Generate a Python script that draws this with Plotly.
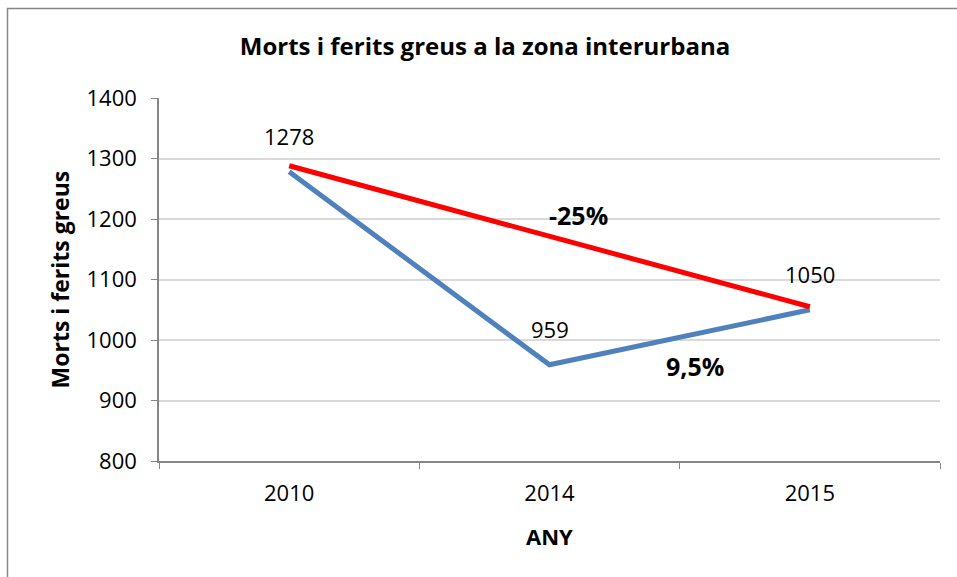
import plotly.graph_objects as go

years = ["2010", "2014", "2015"]
values = [1278, 959, 1050]
trend_years = ["2010", "2015"]
trend_values = [1288, 1055]
pct_labels = ["-25%", "9,5%"]
pct_x = [1.11, 1.56]
pct_y = [1207, 957]

FONT = "Open Sans, Noto Sans, sans-serif"

fig = go.Figure()
fig.add_trace(go.Scatter(x=years, y=values, mode="lines",
                         line=dict(color="#4f81bd", width=5), hoverinfo="skip"))
fig.add_trace(go.Scatter(x=trend_years, y=trend_values, mode="lines",
                         line=dict(color="#ff0000", width=5), hoverinfo="skip"))

anns = []
for i, v in enumerate(values):
    anns.append(dict(x=i, y=v, xref="x", yref="y", text=str(v), showarrow=False, yshift=36,
                     font=dict(size=22, color="black", family=FONT)))
for t, x, y in zip(pct_labels, pct_x, pct_y):
    anns.append(dict(x=x, y=y, xref="x", yref="y", text="<b>%s</b>" % t, showarrow=False,
                     font=dict(size=25, color="black", family=FONT)))
anns.append(dict(xref="paper", yref="paper", x=-0.1268, y=0.5, xanchor="center", yanchor="middle",
                 text="<b>Morts i ferits greus</b>", textangle=-90, showarrow=False,
                 font=dict(size=23, color="black", family=FONT)))
anns.append(dict(xref="paper", yref="paper", x=0.5006, y=-0.2066, xanchor="center", yanchor="middle",
                 text="<b>ANY</b>", showarrow=False, font=dict(size=22, color="black", family=FONT)))

fig.update_layout(
    width=957, height=577,
    margin=dict(l=159, r=17, t=98, b=116),
    paper_bgcolor="white", plot_bgcolor="white",
    showlegend=False,
    title=dict(text="<b>Morts i ferits greus a la zona interurbana</b>", x=485 / 957, xref="container",
               y=1 - 47 / 577, yref="container", xanchor="center", yanchor="middle",
               font=dict(size=24, color="black", family=FONT)),
    annotations=anns,
    shapes=[dict(type="rect", xref="paper", yref="paper", x0=(7.5 - 159) / 781, x1=1.05,
                 y0=-0.4, y1=1 + (98 - 8.5) / 363, line=dict(color="#868686", width=1.5),
                 fillcolor="rgba(0,0,0,0)", layer="below")],
    xaxis=dict(type="category", range=[-0.5, 2.5], tickson="boundaries", ticks="outside",
               ticklen=6, tickcolor="#868686", showline=True, linecolor="#868686", linewidth=1.5,
               showgrid=False, zeroline=False, ticklabelstandoff=12,
               tickfont=dict(size=22, color="black", family=FONT)),
    yaxis=dict(range=[800, 1400], dtick=100, ticks="outside", ticklen=6, tickcolor="#868686",
               showline=True, linecolor="#868686", linewidth=1.5, showgrid=True,
               gridcolor="#d9d9d9", gridwidth=1.5, zeroline=False, ticklabelstandoff=10,
               tickfont=dict(size=22, color="black", family=FONT)),
)

fig.write_html("out.html", config={"displayModeBar": False},
               post_script="document.body.style.margin='0px';")
